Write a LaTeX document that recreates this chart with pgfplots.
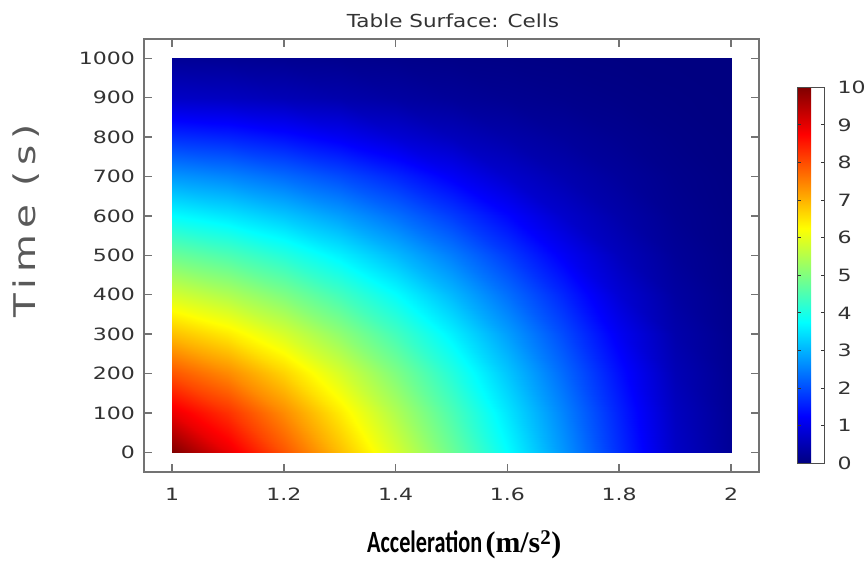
\documentclass[border=0pt]{standalone}
\usepackage{pgfplots}
\pgfplotsset{compat=1.18}
\usepackage{fontspec}
\newfontfamily\tickfont[FakeStretch=1.3]{DejaVu Sans}
\newfontfamily\titlefont[FakeStretch=1.2]{DejaVu Sans}
\newfontfamily\ylabfont[FakeStretch=1.3,LetterSpace=20]{DejaVu Sans}
\newfontfamily\xlabA[FakeStretch=0.72]{Carlito}
\newfontfamily\xlabB{Liberation Serif}
\definecolor{framegray}{rgb}{0.45,0.45,0.45}
\definecolor{labgray}{rgb}{0.2,0.2,0.2}
\begin{document}
\begin{tikzpicture}[x=1bp,y=1bp]
\path[use as bounding box] (0,0) rectangle (866,563);
\begin{axis}[
  at={(144bp,91bp)}, anchor=south west,
  scale only axis, width=615bp, height=433bp,
  xmin=0.9499, xmax=2.0501, ymin=-50, ymax=1049,
  xtick={1,1.2,1.4,1.6,1.8,2},
  ytick={0,100,200,300,400,500,600,700,800,900,1000},
  scaled ticks=false,
  /pgf/number format/1000 sep={},
  /pgf/number format/assume math mode=true,
  tick align=inside, tick pos=both, ticklabel pos=left,
  major tick length=8bp,
  axis line style={draw=framegray, line width=2bp},
  major tick style={draw=framegray, line width=1.5bp},
  tick label style={font=\tickfont\fontsize{17}{20}\selectfont, text=labgray, inner sep=0pt},
  x tick label style={anchor=north, yshift=-16bp},
  y tick label style={anchor=east, xshift=-9bp},
  colormap/jet,
  point meta min=0, point meta max=10,
  colorbar,
  colorbar style={
    at={(parent axis.north east)}, anchor=north west,
    xshift=29.5bp, yshift=-48.3bp,
    scale only axis, width=27.5bp, height=376bp,
    ymin=0, ymax=10,
    ytick={0,1,2,3,4,5,6,7,8,9,10},
    tick align=inside, ytick pos=both, yticklabel pos=right,
    major tick length=4bp,
    major tick style={draw=black!80, line width=1bp},
    axis line style={draw=black!70, line width=1bp},
    /pgf/number format/assume math mode=true,
    y tick label style={font=\tickfont\fontsize{17}{20}\selectfont, text=labgray, inner sep=0pt, anchor=west, xshift=13bp},
  },
]
\addplot[surf, shader=interp, mesh/cols=11, point meta=explicit] table[x=x, y=y, meta=z] {
x y z
1.0 0 10.00
1.1 0 8.96
1.2 0 7.92
1.3 0 6.88
1.4 0 5.84
1.5 0 4.80
1.6 0 3.76
1.7 0 2.72
1.8 0 1.68
1.9 0 0.69
2.0 0 0.22
1.0 100 8.96
1.1 100 8.28
1.2 100 7.39
1.3 100 6.44
1.4 100 5.47
1.5 100 4.50
1.6 100 3.52
1.7 100 2.55
1.8 100 1.57
1.9 100 0.63
2.0 100 0.20
1.0 200 7.92
1.1 200 7.39
1.2 200 6.67
1.3 200 5.85
1.4 200 4.99
1.5 200 4.10
1.6 200 3.20
1.7 200 2.29
1.8 200 1.38
1.9 200 0.53
2.0 200 0.17
1.0 300 6.88
1.1 300 6.44
1.2 300 5.85
1.3 300 5.16
1.4 300 4.41
1.5 300 3.62
1.6 300 2.81
1.7 300 1.98
1.8 300 1.13
1.9 300 0.43
2.0 300 0.14
1.0 400 5.84
1.1 400 5.47
1.2 400 4.99
1.3 400 4.41
1.4 400 3.77
1.5 400 3.07
1.6 400 2.35
1.7 400 1.61
1.8 400 0.83
1.9 400 0.33
2.0 400 0.11
1.0 500 4.80
1.1 500 4.50
1.2 500 4.10
1.3 500 3.62
1.4 500 3.07
1.5 500 2.48
1.6 500 1.84
1.7 500 1.17
1.8 500 0.59
1.9 500 0.24
2.0 500 0.08
1.0 600 3.76
1.1 600 3.52
1.2 600 3.20
1.3 600 2.81
1.4 600 2.35
1.5 600 1.84
1.6 600 1.30
1.7 600 0.75
1.8 600 0.41
1.9 600 0.17
2.0 600 0.06
1.0 700 2.72
1.1 700 2.55
1.2 700 2.29
1.3 700 1.98
1.4 700 1.61
1.5 700 1.17
1.6 700 0.75
1.7 700 0.47
1.8 700 0.27
1.9 700 0.12
2.0 700 0.04
1.0 800 1.68
1.1 800 1.57
1.2 800 1.38
1.3 800 1.13
1.4 800 0.83
1.5 800 0.59
1.6 800 0.41
1.7 800 0.27
1.8 800 0.16
1.9 800 0.07
2.0 800 0.02
1.0 900 0.69
1.1 900 0.63
1.2 900 0.53
1.3 900 0.43
1.4 900 0.33
1.5 900 0.24
1.6 900 0.17
1.7 900 0.12
1.8 900 0.07
1.9 900 0.03
2.0 900 0.01
1.0 1000 0.22
1.1 1000 0.20
1.2 1000 0.17
1.3 1000 0.14
1.4 1000 0.11
1.5 1000 0.08
1.6 1000 0.06
1.7 1000 0.04
1.8 1000 0.02
1.9 1000 0.01
2.0 1000 0.01
};
\end{axis}
\node[anchor=base, inner sep=0pt, font=\titlefont\fontsize{18}{20}\selectfont, text=labgray] at (453,535.7) {Table Surface: Cells};
\node[rotate=90, inner sep=0pt, font=\ylabfont\fontsize{30}{34}\selectfont, text=black!65] at (26,342) {Time (s)};
\node[anchor=base west, inner sep=0pt] at (367,10) {{\xlabA\bfseries\fontsize{31}{34}\selectfont Acceleration} {\xlabB\bfseries\fontsize{30}{34}\selectfont (m/s\textsuperscript{2})}};
\end{tikzpicture}
\end{document}
